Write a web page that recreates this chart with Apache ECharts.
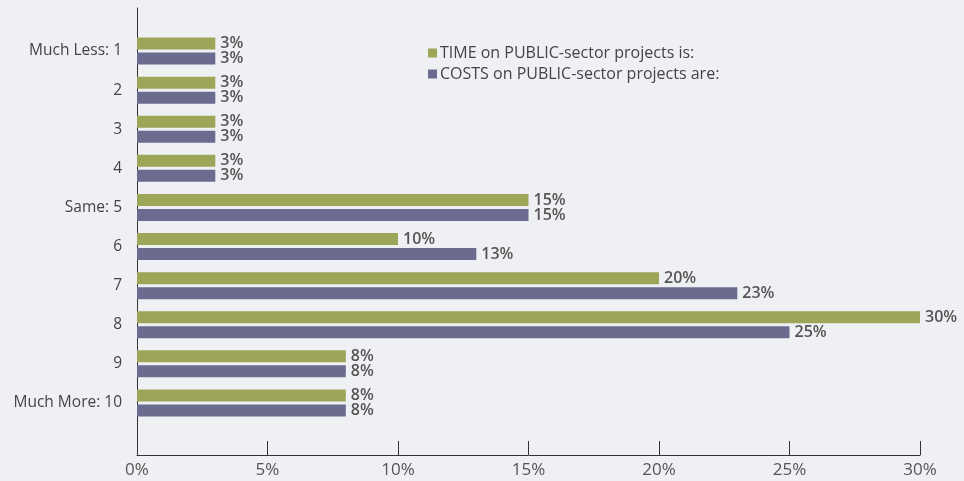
<!DOCTYPE html>
<html><head><meta charset="utf-8">
<script src="https://cdn.jsdelivr.net/npm/echarts@6/dist/echarts.min.js"></script>
<style>html,body{margin:0;padding:0;background:#eff0f3;}#c{width:964px;height:481px;}</style>
</head><body><div id="c"></div>
<script>
var categories = ['Much Less: 1','2','3','4','Same: 5','6','7','8','9','Much More: 10'];
var timeValues = [3,3,3,3,15,10,20,30,8,8];
var costValues = [3,3,3,3,15,13,23,25,8,8];
var seriesNames = ['TIME on PUBLIC-sector projects is:','COSTS on PUBLIC-sector projects are:'];
var xTicks = {min:0, max:30, interval:5};

var chart = echarts.init(document.getElementById('c'));
var labelStyle = {show:true, position:'right', distance:5, formatter:'{c}%', color:'#555', fontSize:16, fontWeight:600, fontFamily:'Open Sans'};
chart.setOption({
  backgroundColor:'#eff0f3',
  animation:false,
  legend:{
    orient:'vertical', left:423, top:40, itemWidth:9, itemHeight:9, itemGap:5,
    icon:'rect',
    textStyle:{color:'#444', fontSize:16, fontFamily:'Open Sans', padding:[0,0,0,-2]},
    data:seriesNames
  },
  grid:[
    {left:137, right:44, top:8, bottom:26},
    {left:137, right:44, top:31.5, bottom:58.5}
  ],
  xAxis:[
    {gridIndex:0, type:'value', min:xTicks.min, max:xTicks.max, interval:xTicks.interval,
     axisLine:{show:true, lineStyle:{color:'#333', width:1}},
     axisTick:{show:true, inside:true, length:14, lineStyle:{color:'#333'}},
     axisLabel:{formatter:'{value}%', color:'#555', fontSize:17, margin:7, fontFamily:'Open Sans'},
     splitLine:{show:false}},
    {gridIndex:1, type:'value', min:xTicks.min, max:xTicks.max, show:false, splitLine:{show:false}}
  ],
  yAxis:[
    {gridIndex:0, type:'value', min:0, max:1, axisLine:{show:true, lineStyle:{color:'#333'}},
     axisTick:{show:false}, axisLabel:{show:false}, splitLine:{show:false}},
    {gridIndex:1, type:'category', inverse:true, data:categories,
     axisLine:{show:false}, axisTick:{show:false},
     axisLabel:{color:'#444', fontSize:15.5, margin:15, fontFamily:'Open Sans'}}
  ],
  series:[
    {name:seriesNames[0], type:'bar', xAxisIndex:1, yAxisIndex:1, data:timeValues,
     barWidth:12, barGap:'25%', itemStyle:{color:'#9da558'}, label:labelStyle},
    {name:seriesNames[1], type:'bar', xAxisIndex:1, yAxisIndex:1, data:costValues,
     barWidth:12, barGap:'25%', itemStyle:{color:'#6a6b8e'}, label:labelStyle}
  ]
});
</script></body></html>
